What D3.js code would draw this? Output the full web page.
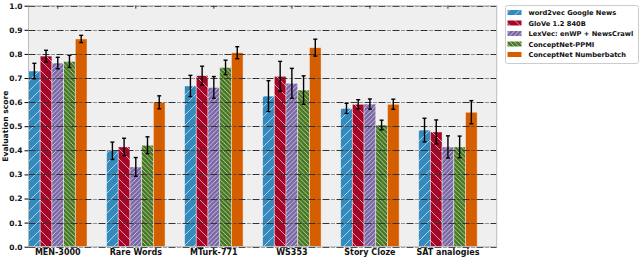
<!DOCTYPE html>
<html>
<head>
<meta charset="utf-8">
<script src="https://cdn.jsdelivr.net/npm/d3@7"></script>
<style>
  body { margin: 0; background: #fff; }
  text { font-family: "DejaVu Sans", sans-serif; font-weight: bold; fill: #111; }
</style>
</head>
<body>
<svg id="chart" width="640" height="258"></svg>
<script>
// benchmark categories
const categories = ["MEN-3000", "Rare Words", "MTurk-771", "WS353", "Story Cloze", "SAT analogies"];
const seriesNames = ["word2vec Google News", "GloVe 1.2 840B", "LexVec: enWP + NewsCrawl", "ConceptNet-PPMI", "ConceptNet Numberbatch"];

// scores per series, one value per category
const word2vec = [0.729, 0.398, 0.667, 0.625, 0.574, 0.484];
const glove = [0.791, 0.414, 0.710, 0.707, 0.591, 0.476];
const lexvec = [0.762, 0.331, 0.661, 0.678, 0.592, 0.414];
const ppmi = [0.769, 0.421, 0.744, 0.650, 0.505, 0.414];
const numberbatch = [0.862, 0.599, 0.805, 0.826, 0.591, 0.558];

// error bar half-widths
const word2vecErr = [0.032, 0.036, 0.044, 0.064, 0.021, 0.049];
const gloveErr = [0.024, 0.036, 0.039, 0.062, 0.019, 0.050];
const lexvecErr = [0.024, 0.039, 0.045, 0.062, 0.021, 0.046];
const ppmiErr = [0.025, 0.035, 0.030, 0.059, 0.020, 0.045];
const numberbatchErr = [0.015, 0.027, 0.025, 0.035, 0.021, 0.048];

const yTicks = [0, 0.1, 0.2, 0.3, 0.4, 0.5, 0.6, 0.7, 0.8, 0.9, 1.0];

const colors = ["#348ABD", "#A60628", "#7A68A6", "#467821", "#D55E00"];
// hatch: direction and spacing, null = plain
const hatches = [{dir: "/", gap: 10}, {dir: "\\", gap: 10}, {dir: "/", gap: 4.5}, {dir: "\\", gap: 4.5}, null];

const values = [word2vec, glove, lexvec, ppmi, numberbatch];
const errors = [word2vecErr, gloveErr, lexvecErr, ppmiErr, numberbatchErr];

const rows = [];
categories.forEach((c, i) => {
    seriesNames.forEach((s, j) => {
        rows.push({cat: c, series: j, value: values[j][i], err: errors[j][i]});
    });
});

const width = 640, height = 258;
const margin = {top: 5.7, right: 143.3, bottom: 11.3, left: 28.5};

const svg = d3.select("#chart");
const defs = svg.append("defs");

hatches.forEach((h, j) => {
    if (!h) return;
    const g = h.gap;
    const p = defs.append("pattern")
        .attr("id", `hatch-${j}`)
        .attr("patternUnits", "userSpaceOnUse")
        .attr("width", g)
        .attr("height", g);
    p.append("rect").attr("width", g).attr("height", g).attr("fill", colors[j]);
    const d = h.dir === "/"
        ? `M0,${g} L${g},0 M${-g / 2},${g / 2} L${g / 2},${-g / 2} M${g / 2},${g * 1.5} L${g * 1.5},${g / 2}`
        : `M0,0 L${g},${g} M${-g / 2},${g / 2} L${g / 2},${g * 1.5} M${g / 2},${-g / 2} L${g * 1.5},${g / 2}`;
    p.append("path")
        .attr("d", d)
        .attr("stroke", "#fff")
        .attr("stroke-opacity", 0.75)
        .attr("stroke-width", 0.8);
});

const fillFor = j => hatches[j] ? `url(#hatch-${j})` : colors[j];

const x0 = d3.scaleBand()
    .domain(categories)
    .range([margin.left, width - margin.right - 19.5])
    .paddingInner(0.25)
    .paddingOuter(0)
    .align(0);

const x1 = d3.scaleBand()
    .domain(d3.range(seriesNames.length))
    .range([0, x0.bandwidth()])
    .padding(0);

const y = d3.scaleLinear()
    .domain([0, 1])
    .range([height - margin.bottom, margin.top]);

// plot background
svg.append("rect")
    .attr("x", margin.left)
    .attr("y", margin.top)
    .attr("width", width - margin.left - margin.right)
    .attr("height", height - margin.top - margin.bottom)
    .attr("fill", "#efefef");

// bars
svg.append("g")
    .selectAll("rect")
    .data(rows)
    .join("rect")
    .attr("x", d => x0(d.cat) + x1(d.series))
    .attr("y", d => y(d.value))
    .attr("width", x1.bandwidth())
    .attr("height", d => y(0) - y(d.value))
    .attr("fill", d => fillFor(d.series))
    .attr("stroke", "#fff")
    .attr("stroke-opacity", 0.55)
    .attr("stroke-width", 0.8);

// grid over the bars
svg.append("g")
    .selectAll("line")
    .data(yTicks)
    .join("line")
    .attr("x1", margin.left)
    .attr("x2", width - margin.right)
    .attr("y1", d => Math.round(y(d)) + 0.5)
    .attr("y2", d => Math.round(y(d)) + 0.5)
    .attr("stroke", "#333")
    .attr("stroke-width", 1)
    .attr("stroke-dasharray", "7,2,1,1,1,2");

// error bars
const eb = svg.append("g").attr("stroke", "#000").attr("stroke-width", 1.4);
rows.forEach(d => {
    const cx = x0(d.cat) + x1(d.series) + x1.bandwidth() / 2;
    const lo = y(d.value - d.err), hi = y(d.value + d.err);
    eb.append("line").attr("x1", cx).attr("x2", cx).attr("y1", lo).attr("y2", hi);
    eb.append("line").attr("x1", cx - 2).attr("x2", cx + 2).attr("y1", lo).attr("y2", lo);
    eb.append("line").attr("x1", cx - 2).attr("x2", cx + 2).attr("y1", hi).attr("y2", hi);
});

// frame
svg.append("rect")
    .attr("x", margin.left)
    .attr("y", margin.top)
    .attr("width", width - margin.left - margin.right)
    .attr("height", height - margin.top - margin.bottom)
    .attr("fill", "none")
    .attr("stroke", "#bcbcbc")
    .attr("stroke-width", 1);

// y axis
const yAxis = svg.append("g")
    .attr("transform", `translate(${margin.left},0)`)
    .call(d3.axisLeft(y).tickValues(yTicks).tickFormat(d3.format(".1f")).tickSize(4).tickPadding(2));
yAxis.select(".domain").remove();
yAxis.selectAll("text").style("font-size", "7.5px");

// x axis
const xAxis = svg.append("g")
    .attr("transform", `translate(0,${height - margin.bottom})`)
    .call(d3.axisBottom(x0).tickSize(0).tickPadding(3));
xAxis.select(".domain").remove();
xAxis.selectAll("text").style("font-size", "8px");

// small ticks at the top edge
svg.append("g")
    .selectAll("line")
    .data(categories)
    .join("line")
    .attr("x1", d => x0(d) + x0.bandwidth() / 2)
    .attr("x2", d => x0(d) + x0.bandwidth() / 2)
    .attr("y1", margin.top)
    .attr("y2", margin.top + 3)
    .attr("stroke", "#333");

// y label
svg.append("text")
    .attr("transform", `translate(8,${(margin.top + height - margin.bottom) / 2}) rotate(-90)`)
    .attr("text-anchor", "middle")
    .style("font-size", "7.6px")
    .text("Evaluation score");

// legend
const legend = svg.append("g").attr("transform", "translate(505.5,5.5)");
legend.append("rect")
    .attr("width", 133)
    .attr("height", 58)
    .attr("rx", 2)
    .attr("fill", "#fff")
    .attr("stroke", "#ccc");
seriesNames.forEach((s, j) => {
    const row = legend.append("g").attr("transform", `translate(2,${7 + j * 10.5})`);
    row.append("rect")
        .attr("x", 0)
        .attr("y", -2.5)
        .attr("width", 14)
        .attr("height", 5)
        .attr("fill", fillFor(j));
    row.append("text")
        .attr("x", 21)
        .attr("y", 2.6)
        .style("font-size", "6.7px")
        .text(s);
});
</script>
</body>
</html>
